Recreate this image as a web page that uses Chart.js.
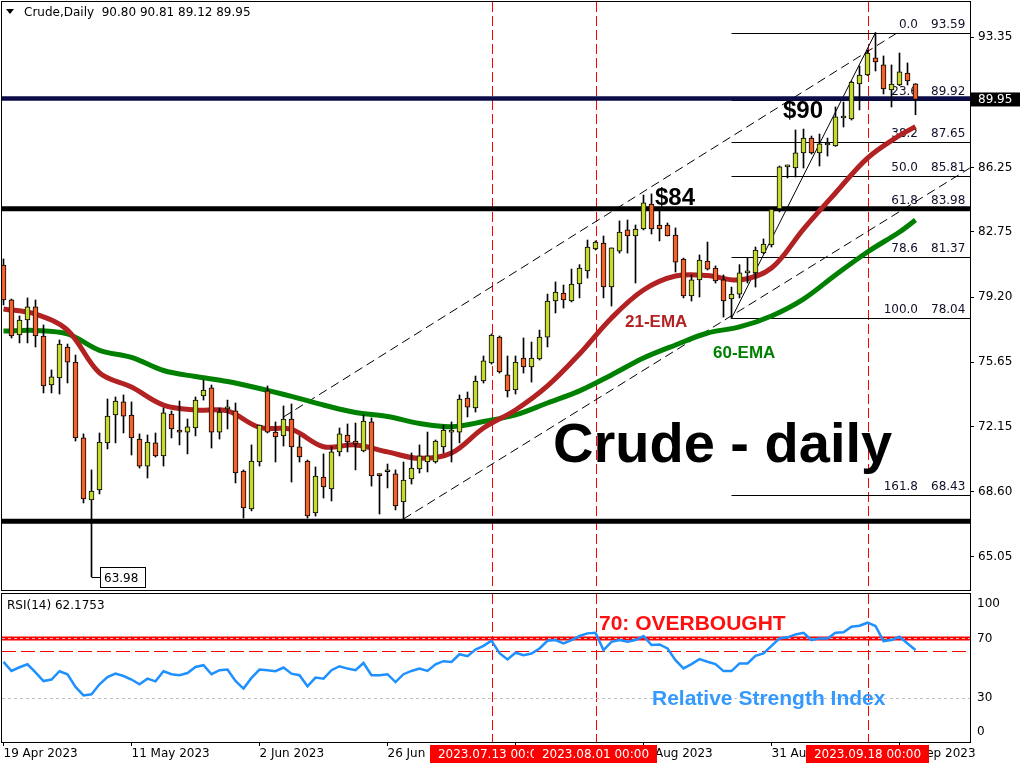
<!DOCTYPE html>
<html>
<head>
<meta charset="utf-8">
<script src="https://cdn.jsdelivr.net/npm/chart.js@4.4.0/dist/chart.umd.min.js"></script>
<style>
  html, body { margin: 0; padding: 0; background: #fff; }
  #wrap { position: relative; width: 1024px; height: 768px; overflow: hidden; }
  #main { position: absolute; left: 0; top: 0; }
  #rsi { position: absolute; left: 0; top: 592px; }
</style>
</head>
<body>
<div id="wrap">
  <canvas id="main" width="1024" height="592"></canvas>
  <canvas id="rsi" width="1024" height="176"></canvas>
</div>
<script>
// Crude oil daily candles, 19 Apr 2023 .. 26 Sep 2023 (bar index 0..114)
const OPEN = [80.94,79.04,77.13,77.95,78.66,77.08,74.41,74.79,76.48,75.66,
  71.53,68.15,68.70,71.26,72.78,73.49,72.78,71.47,70.00,71.26,
  70.55,72.83,71.96,71.85,72.07,73.81,74.25,71.85,73.11,73.00,
  69.73,67.66,70.22,74.09,71.85,71.64,72.56,71.04,70.27,67.45,
  69.40,68.75,70.77,71.69,71.36,70.82,72.40,69.51,69.69,69.57,
  68.05,69.30,69.84,70.22,70.22,71.04,71.85,71.85,73.70,73.16,
  74.63,75.61,77.02,74.96,74.14,75.88,75.39,75.83,77.02,78.98,
  79.42,78.98,79.91,80.62,81.81,82.14,79.75,81.70,82.85,82.52,
  82.90,84.26,83.12,83.12,82.57,81.27,79.26,80.13,81.16,80.78,
  80.13,79.09,79.36,80.51,80.51,81.60,82.03,83.99,86.28,86.22,
  87.04,87.85,87.04,87.47,87.42,88.94,88.89,90.79,91.28,92.21,
  91.83,90.47,90.74,91.39,90.80];
const HIGH = [81.27,79.09,78.17,79.15,79.04,77.68,75.23,76.86,76.64,76.04,
  71.75,69.79,71.80,73.65,73.76,73.87,73.49,71.75,71.69,71.80,
  73.16,73.00,73.54,72.56,73.76,74.68,74.41,73.16,73.59,73.43,
  69.79,71.15,72.23,74.36,72.40,73.27,73.38,71.64,70.33,69.95,
  70.66,71.04,72.07,72.29,72.34,72.78,72.62,69.57,70.11,69.79,
  70.22,70.71,71.15,71.85,71.42,72.23,72.40,73.87,74.03,74.90,
  75.99,77.19,77.08,75.99,75.99,76.97,76.75,77.40,79.36,80.02,
  79.85,80.72,80.96,82.30,82.25,82.52,81.87,83.34,83.39,83.12,
  84.75,84.81,83.94,83.23,82.96,81.32,80.40,81.49,82.19,80.89,
  80.40,79.74,80.96,81.32,81.92,82.36,84.04,86.33,86.38,88.29,
  88.34,87.96,88.07,87.85,89.54,89.81,90.95,91.77,92.64,93.59,
  92.32,91.83,92.48,91.94,90.81];
const LOW = [78.77,76.97,76.70,76.70,76.48,73.98,73.98,73.92,74.52,71.36,
  67.99,63.98,68.48,70.93,71.26,71.80,70.60,69.89,69.35,70.49,
  70.00,71.53,71.15,70.66,71.64,73.59,70.98,71.47,72.02,69.08,
  67.17,67.56,70.00,71.80,70.22,71.09,69.13,70.22,67.17,67.28,
  68.26,68.10,70.55,70.77,69.79,70.77,68.91,67.39,68.81,67.61,
  67.12,69.02,69.62,69.68,70.16,70.71,70.22,71.26,72.67,72.94,
  74.52,75.55,75.06,73.76,73.92,75.06,74.57,75.77,76.48,78.33,
  78.60,78.93,79.15,80.23,81.76,79.15,78.71,81.59,81.59,79.96,
  82.85,82.63,82.25,82.52,80.56,79.15,78.98,79.20,80.67,79.96,
  78.11,78.04,79.15,79.96,79.74,81.55,81.92,83.83,85.68,85.73,
  86.22,86.98,86.33,86.87,87.40,88.45,88.83,89.38,91.25,91.50,
  90.25,89.54,90.70,90.74,89.12];
const CLOSE = [79.04,77.08,77.95,78.66,77.08,74.36,74.85,76.64,75.66,71.53,
  68.21,68.64,71.31,72.72,73.54,72.72,71.53,70.00,71.31,70.55,
  72.89,72.02,71.85,72.13,73.59,74.14,71.85,72.94,73.21,69.62,
  67.72,70.27,72.23,71.85,71.58,72.56,71.04,70.49,67.28,69.46,
  68.86,70.77,71.75,71.31,71.20,72.45,69.46,69.48,69.73,67.83,
  69.24,69.89,70.55,70.55,71.36,71.96,71.87,73.65,73.21,74.63,
  75.72,77.13,75.12,74.09,75.66,75.39,75.88,77.02,78.98,79.47,
  79.04,79.91,80.78,81.92,82.19,79.75,81.87,82.74,82.52,82.90,
  84.32,82.90,82.90,82.52,81.10,79.26,80.13,81.21,80.72,80.07,
  78.98,79.36,80.51,80.53,81.76,82.08,83.99,86.28,86.30,87.04,
  87.85,87.04,87.53,87.50,89.00,89.05,90.90,91.28,92.48,91.99,
  90.52,90.79,91.45,90.96,89.95];

// moving averages read every 4 bars
const EMA_BARS = [0,4,8,12,16,20,24,28,32,36,40,44,48,52,56,60,64,68,72,76,80,84,88,92,96,100,104,108,112,114];
const EMA21 = [78.55,78.27,77.40,75.07,74.30,73.32,73.05,73.00,72.10,71.99,71.05,71.15,70.77,70.42,70.71,
  72.07,73.05,74.36,76.10,78.06,79.58,80.34,80.37,80.13,80.78,82.90,84.86,86.76,87.99,88.47];
const EMA60 = [77.35,77.38,77.19,76.30,75.91,75.20,74.87,74.60,74.22,73.79,73.32,72.91,72.70,72.32,72.14,
  72.42,72.78,73.43,74.09,74.96,75.88,76.59,77.24,77.57,78.17,79.09,80.40,81.65,82.74,83.39];

// RSI(14), one value per bar
const RSI = [54.1,48.0,50.5,52.5,47.0,41.2,42.2,47.8,45.8,37.2,
  31.5,32.2,39.0,43.9,46.2,44.6,42.2,39.0,42.8,41.0,
  47.8,45.8,45.1,46.6,50.7,51.9,45.8,48.5,48.9,41.2,
  36.1,43.3,48.9,48.5,47.8,50.3,46.2,45.1,37.6,43.5,
  42.8,48.5,51.2,49.6,48.5,53.4,45.1,45.1,45.8,40.5,
  45.8,48.0,49.6,48.0,52.5,54.6,54.1,59.3,58.0,62.5,
  65.0,68.5,60.0,55.8,60.3,58.7,59.8,63.2,68.4,68.9,
  66.6,68.9,71.6,73.4,73.8,62.1,67.7,68.9,67.7,68.9,
  71.6,65.5,65.9,63.2,55.3,49.7,52.6,56.0,54.2,52.6,
  47.9,47.9,53.1,53.1,58.2,59.8,65.0,70.0,70.7,72.7,
  73.8,68.9,70.0,70.0,73.8,74.1,77.9,78.6,80.6,78.4,
  68.2,68.9,71.1,66.6,62.1753];

// axes
const PRICE_TICKS = [93.35, 86.25, 82.75, 79.20, 75.65, 72.15, 68.60, 65.05];
const RSI_TICKS = [100, 70, 30, 0];
const X_TICK_BARS = [0, 16, 32, 48, 64, 80, 96, 112];
const X_TICK_LABELS = ['19 Apr 2023', '11 May 2023', '2 Jun 2023', '26 Jun 2023',
  '14 Jul 2023', '9 Aug 2023', '31 Aug 2023', '22 Sep 2023'];

// drawn objects
const LEVELS = [90.0, 84.0, 67.0];
const UPPER_CHANNEL = [[35, 72.67], [112.1, 93.68]];
const LOWER_CHANNEL = [[50, 67.12], [120.8, 86.22]];
const FIB_FROM_BAR = 91, FIB_TO_BAR = 109;
const FIB_RATIOS = ['0.0', '23.6', '38.2', '50.0', '61.8', '78.6', '100.0', '161.8'];
const FIB_LEVELS = [93.59, 89.92, 87.65, 85.81, 83.98, 81.37, 78.04, 68.43];
const EVENT_BARS = [61, 74, 108];
const EVENT_LABELS = ['2023.07.13 00:00', '2023.08.01 00:00', '2023.09.18 00:00'];
const LAST_PRICE = 89.95;
const LOW_MARK = { bar: 11, price: 63.98 };
const RSI_OVERBOUGHT = 70, RSI_OVERSOLD = 30, RSI_SIGNAL = 61.5;

const BARS = OPEN.map((_, i) => i);
const BULL = '#c6d92f', BEAR = '#f2622a';
const SMALL = '12px "DejaVu Sans", Verdana, sans-serif';
const bold = (px) => `bold ${px}px "Liberation Sans", Arial, sans-serif`;
const X_MIN = -0.1875, X_MAX = X_MIN + 121;   // 8 px per bar

function seg(ctx, x1, y1, x2, y2) {
  ctx.beginPath(); ctx.moveTo(x1, y1); ctx.lineTo(x2, y2); ctx.stroke();
}
function clipArea(ctx, a) {
  ctx.beginPath(); ctx.rect(a.left, a.top, a.right - a.left, a.bottom - a.top); ctx.clip();
}
function eventLines(chart) {
  const { ctx, chartArea: a, scales: { x } } = chart;
  ctx.strokeStyle = '#ff0000'; ctx.lineWidth = 1; ctx.setLineDash([10, 4]);
  EVENT_BARS.forEach(b => {
    const px = Math.round(x.getPixelForValue(b)) + 0.5;
    seg(ctx, px, a.top, px, a.bottom);
  });
  ctx.setLineDash([]);
}
function frame(chart) {
  const { ctx, chartArea: a } = chart;
  ctx.strokeStyle = '#000'; ctx.lineWidth = 1;
  ctx.strokeRect(a.left - 0.5, a.top - 0.5, a.right - a.left + 1, a.bottom - a.top + 1);
}
// keep the plot area fixed: no extra room for half tick labels
function noLabelPadding(s) { s.paddingTop = 0; s.paddingBottom = 0; }

const mainDecor = {
  id: 'mainDecor',
  beforeDatasetsDraw(chart) {
    const { ctx, chartArea: a, scales: { x, y } } = chart;
    ctx.save();
    clipArea(ctx, a);
    eventLines(chart);

    ctx.strokeStyle = '#000'; ctx.lineWidth = 1; ctx.setLineDash([9, 5]);
    [UPPER_CHANNEL, LOWER_CHANNEL].forEach(c => seg(ctx,
      x.getPixelForValue(c[0][0]), y.getPixelForValue(c[0][1]),
      x.getPixelForValue(c[1][0]), y.getPixelForValue(c[1][1])));
    ctx.setLineDash([]);

    // fibonacci retracement
    const fx = x.getPixelForValue(FIB_FROM_BAR);
    FIB_LEVELS.forEach(v => {
      const py = Math.round(y.getPixelForValue(v)) + 0.5;
      seg(ctx, fx, py, a.right, py);
    });
    seg(ctx, fx, y.getPixelForValue(FIB_LEVELS[6]), x.getPixelForValue(FIB_TO_BAR), y.getPixelForValue(FIB_LEVELS[0]));
    ctx.fillStyle = '#10102a'; ctx.font = SMALL; ctx.textBaseline = 'alphabetic';
    FIB_LEVELS.forEach((v, i) => {
      const py = y.getPixelForValue(v) - 5;
      ctx.textAlign = 'right'; ctx.fillText(FIB_RATIOS[i], 918, py);
      ctx.textAlign = 'left'; ctx.fillText(v.toFixed(2), 931, py);
    });

    // horizontal support / resistance
    LEVELS.forEach((v, i) => {
      ctx.strokeStyle = i === 0 ? '#0c0c48' : '#000';
      ctx.lineWidth = i === 0 ? 4.5 : 5;
      const py = y.getPixelForValue(v);
      seg(ctx, a.left, py, a.right, py);
    });
    ctx.restore();
  },
  afterDatasetsDraw(chart) {
    const { ctx, scales: { x, y } } = chart;
    ctx.save();
    ctx.fillStyle = '#000'; ctx.textAlign = 'left'; ctx.textBaseline = 'alphabetic';
    ctx.font = bold(24);
    ctx.fillText('$90', 783, 118);
    ctx.fillText('$84', 655, 205);
    ctx.font = bold(17);
    ctx.fillStyle = '#b22222'; ctx.fillText('21-EMA', 625, 327);
    ctx.fillStyle = '#008000'; ctx.fillText('60-EMA', 713, 358);
    ctx.fillStyle = '#000'; ctx.font = bold(56);
    ctx.fillText('Crude - daily', 553, 462);

    // label for the swing low
    const lx = x.getPixelForValue(LOW_MARK.bar), ly = Math.round(y.getPixelForValue(LOW_MARK.price)) + 0.5;
    ctx.strokeStyle = '#000'; ctx.lineWidth = 1;
    seg(ctx, lx, ly, 100, ly);
    ctx.fillStyle = '#fff'; ctx.fillRect(100, ly - 10, 46, 20);
    ctx.strokeRect(100.5, ly - 10, 45, 20);
    ctx.fillStyle = '#000'; ctx.font = SMALL; ctx.textBaseline = 'middle';
    ctx.fillText(LOW_MARK.price.toFixed(2), 104, ly + 1);

    // header
    ctx.beginPath(); ctx.moveTo(6, 9); ctx.lineTo(14, 9); ctx.lineTo(10, 14); ctx.closePath(); ctx.fill();
    ctx.fillText('Crude,Daily  ' + [OPEN, HIGH, LOW, CLOSE].map(s => s[s.length - 1].toFixed(2)).join(' '), 24, 13);
    ctx.restore();
  },
  afterDraw(chart) {
    const { ctx, chartArea: a, scales: { y } } = chart;
    ctx.save();
    frame(chart);
    const py = y.getPixelForValue(LAST_PRICE);
    ctx.fillStyle = '#000'; ctx.fillRect(a.right + 1, py - 7, 49, 14);
    ctx.fillStyle = '#fff'; ctx.font = SMALL; ctx.textAlign = 'left'; ctx.textBaseline = 'middle';
    ctx.fillText(LAST_PRICE.toFixed(2), a.right + 8, py + 0.5);
    ctx.restore();
  }
};

new Chart(document.getElementById('main'), {
  type: 'bar',
  data: {
    datasets: [
      {
        data: BARS.map(i => ({ x: i, y: [OPEN[i], CLOSE[i]] })),
        backgroundColor: BARS.map(i => CLOSE[i] >= OPEN[i] ? BULL : BEAR),
        borderColor: '#000', borderWidth: 1, borderSkipped: false,
        barThickness: 5, minBarLength: 2, grouped: false
      },
      {
        data: BARS.map(i => ({ x: i, y: [LOW[i], HIGH[i]] })),
        backgroundColor: '#000', borderWidth: 0,
        barThickness: 1, grouped: false
      },
      {
        type: 'line', data: EMA_BARS.map((b, i) => ({ x: b, y: EMA21[i] })),
        borderColor: '#b22222', borderWidth: 5, pointRadius: 0, tension: 0.35
      },
      {
        type: 'line', data: EMA_BARS.map((b, i) => ({ x: b, y: EMA60[i] })),
        borderColor: '#008000', borderWidth: 5, pointRadius: 0, tension: 0.35
      }
    ]
  },
  options: {
    responsive: false, animation: false, devicePixelRatio: 1,
    layout: { padding: { left: 2, top: 2, right: 0, bottom: 2 } },
    plugins: { legend: { display: false }, tooltip: { enabled: false } },
    scales: {
      x: { type: 'linear', min: X_MIN, max: X_MAX, offset: false, display: false, grid: { offset: false } },
      y: {
        position: 'right', min: 63.254, max: 95.255,
        afterBuildTicks: s => { s.ticks = PRICE_TICKS.map(v => ({ value: v })); },
        afterFit: s => { s.width = 54; noLabelPadding(s); },
        ticks: { callback: v => v.toFixed(2), font: { family: '"DejaVu Sans"', size: 12 }, color: '#000', padding: 4 },
        grid: { drawOnChartArea: false, drawTicks: true, tickLength: 4, color: '#000' },
        border: { color: '#000' }
      }
    }
  },
  plugins: [mainDecor]
});

const rsiDecor = {
  id: 'rsiDecor',
  beforeDatasetsDraw(chart) {
    const { ctx, chartArea: a, scales: { y } } = chart;
    ctx.save();
    clipArea(ctx, a);
    eventLines(chart);
    const y70 = y.getPixelForValue(RSI_OVERBOUGHT);
    ctx.strokeStyle = '#ff0000'; ctx.lineWidth = 4;
    seg(ctx, a.left, y70, a.right, y70);
    ctx.lineWidth = 1; ctx.setLineDash([14, 5]);
    const ys = Math.round(y.getPixelForValue(RSI_SIGNAL)) + 0.5;
    seg(ctx, a.left, ys, a.right, ys);
    ctx.strokeStyle = '#c0c0c0'; ctx.setLineDash([3, 3]);
    [RSI_OVERBOUGHT, RSI_OVERSOLD].forEach(v => {
      const py = Math.round(y.getPixelForValue(v)) + 0.5;
      seg(ctx, a.left, py, a.right, py);
    });
    ctx.restore();
  },
  afterDraw(chart) {
    const { ctx, chartArea: a, scales: { x, y } } = chart;
    ctx.save();
    frame(chart);
    ctx.font = SMALL; ctx.fillStyle = '#000'; ctx.textAlign = 'left'; ctx.textBaseline = 'middle';
    RSI_TICKS.forEach(v => {
      const py = Math.min(Math.max(y.getPixelForValue(v), a.top + 10), a.bottom - 10);
      ctx.fillText(String(v), a.right + 7, py);
    });
    ctx.fillText('RSI(14) ' + RSI[RSI.length - 1].toFixed(4), 7, 14);

    EVENT_BARS.forEach((b, i) => {
      const cx = x.getPixelForValue(b);
      ctx.fillStyle = '#ff0000'; ctx.fillRect(Math.round(cx - 62), a.bottom + 3, 123, 18);
      ctx.fillStyle = '#fff'; ctx.textAlign = 'center';
      ctx.fillText(EVENT_LABELS[i], cx, a.bottom + 12.5);
    });

    ctx.textAlign = 'left'; ctx.textBaseline = 'alphabetic';
    ctx.font = bold(21);
    ctx.fillStyle = '#ff1010'; ctx.fillText('70: OVERBOUGHT', 599, 38);
    ctx.fillStyle = '#3399ff'; ctx.fillText('Relative Strength Index', 652, 113);
    ctx.restore();
  }
};

new Chart(document.getElementById('rsi'), {
  type: 'line',
  data: {
    datasets: [{
      data: BARS.map(i => ({ x: i, y: RSI[i] })),
      borderColor: '#1e90ff', borderWidth: 2.5, pointRadius: 0, tension: 0
    }]
  },
  options: {
    responsive: false, animation: false, devicePixelRatio: 1,
    layout: { padding: { left: 2, top: 2, right: 0, bottom: 0 } },
    plugins: { legend: { display: false }, tooltip: { enabled: false } },
    scales: {
      x: {
        type: 'linear', min: X_MIN, max: X_MAX, offset: false,
        afterBuildTicks: s => { s.ticks = X_TICK_BARS.map(v => ({ value: v })); },
        afterFit: s => { s.height = 26; },
        ticks: {
          callback: (v, i) => X_TICK_LABELS[i], align: 'start', autoSkip: false,
          maxRotation: 0, minRotation: 0, padding: 1,
          font: { family: '"DejaVu Sans"', size: 12 }, color: '#000'
        },
        grid: { drawOnChartArea: false, drawTicks: true, tickLength: 4, color: '#000' },
        border: { color: '#000' }
      },
      y: {
        position: 'right', min: 0, max: 100,
        afterFit: s => { s.width = 54; noLabelPadding(s); },
        ticks: { display: false },
        grid: { drawOnChartArea: false, drawTicks: false },
        border: { color: '#000' }
      }
    }
  },
  plugins: [rsiDecor]
});
</script>
</body>
</html>
